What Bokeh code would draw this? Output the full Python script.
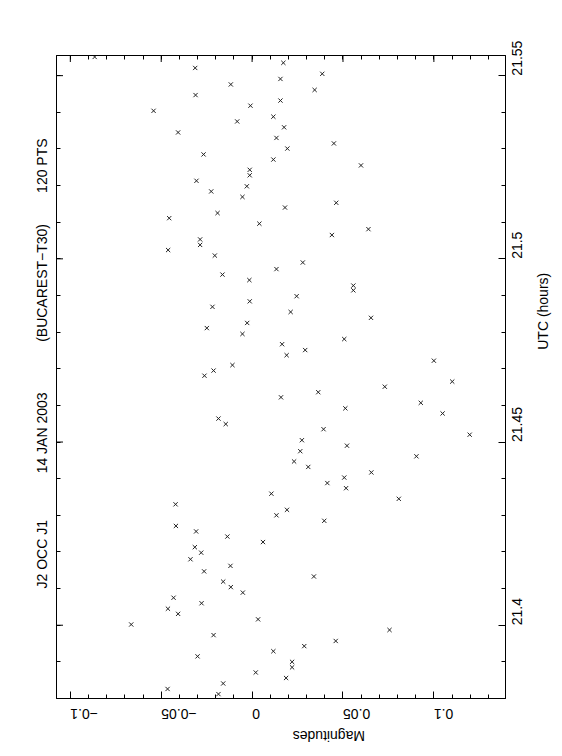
import math
import numpy as np
from bokeh.plotting import figure
from bokeh.models import (LinearAxis, FixedTicker, Range1d, Title,
                          ColumnDataSource, CustomJSTickFormatter)
from bokeh.embed import file_html
from bokeh.resources import INLINE

# ---------------- data ----------------
utc = [21.5551, 21.5535, 21.5521, 21.5505, 21.5491, 21.5476, 21.5461, 21.5447,
       21.5432, 21.5418, 21.5404, 21.5388, 21.5375, 21.5359, 21.5345, 21.5330,
       21.5315, 21.5301, 21.5285, 21.5271, 21.5255, 21.5243, 21.5228, 21.5213,
       21.5198, 21.5184, 21.5169, 21.5153, 21.5140, 21.5125, 21.5111, 21.5096,
       21.5081, 21.5065, 21.5053, 21.5038, 21.5024, 21.5009, 21.4990, 21.4972,
       21.4957, 21.4942, 21.4927, 21.4914, 21.4898, 21.4884, 21.4869, 21.4855,
       21.4839, 21.4825, 21.4811, 21.4795, 21.4781, 21.4767, 21.4751, 21.4737,
       21.4722, 21.4710, 21.4695, 21.4681, 21.4665, 21.4651, 21.4636, 21.4622,
       21.4607, 21.4592, 21.4578, 21.4564, 21.4549, 21.4535, 21.4520, 21.4505,
       21.4490, 21.4475, 21.4461, 21.4447, 21.4432, 21.4417, 21.4403, 21.4388,
       21.4374, 21.4359, 21.4345, 21.4330, 21.4315, 21.4300, 21.4285, 21.4271,
       21.4256, 21.4242, 21.4227, 21.4213, 21.4198, 21.4180, 21.4162, 21.4147,
       21.4133, 21.4119, 21.4104, 21.4089, 21.4075, 21.4060, 21.4045, 21.4031,
       21.4016, 21.4002, 21.3987, 21.3973, 21.3957, 21.3943, 21.3929, 21.3915,
       21.3900, 21.3885, 21.3871, 21.3856, 21.3841, 21.3826, 21.3812]

mag = [-0.0866, 0.0172, -0.0313, 0.0386, 0.0156, -0.0117, 0.0344, -0.0311,
       0.0156, -0.0009, -0.0542, 0.0117, -0.0082, 0.0176, -0.0407, 0.0134,
       0.0450, 0.0194, -0.0267, 0.0117, 0.0599, -0.0013, -0.0013, -0.0306,
       -0.0029, -0.0225, -0.0053, 0.0463, 0.0181, -0.0190, -0.0456, 0.0040,
       0.0640, 0.0439, -0.0286, -0.0286, -0.0462, -0.0205, 0.0279, 0.0134,
       -0.0163, -0.0015, 0.0557, 0.0557, 0.0245, -0.0013, -0.0218, 0.0212,
       0.0654, -0.0027, -0.0249, -0.0053, 0.0507, 0.0165, 0.0292, 0.0190,
       0.1000, -0.0108, -0.0212, -0.0262, 0.1101, 0.0730, 0.0364, 0.0159,
       0.0928, 0.0513, 0.1048, -0.0185, -0.0145, 0.0393, 0.1197, 0.0274,
       0.0522, 0.0265, 0.0904, 0.0231, 0.0309, 0.0656, 0.0507, 0.0414,
       0.0517, 0.0106, 0.0807, -0.0421, 0.0192, 0.0134, 0.0397, -0.0419,
       -0.0308, -0.0136, 0.0060, -0.0315, -0.0280, -0.0339, -0.0119, -0.0264,
       0.0340, -0.0159, -0.0117, -0.0051, -0.0432, -0.0278, -0.0463, -0.0407,
       0.0033, -0.0665, 0.0756, -0.0212, 0.0460, 0.0287, 0.0117, -0.0300,
       0.0220, 0.0220, 0.0020, 0.0187, -0.0159, -0.0465, -0.0185]

mag_ticks = [-0.1, -0.05, 0.0, 0.05, 0.1]
mag_tick_labels = ["\u22120.1", "\u22120.05", "0", "0.05", "0.1"]
utc_ticks = [21.4, 21.45, 21.5, 21.55]
utc_tick_labels = ["21.4", "21.45", "21.5", "21.55"]

title_parts = ["J2 OCC J1", "14 JAN 2003", "(BUCAREST\u2212T30)", "120 PTS"]
x_title = "Magnitudes"
y_title = "UTC (hours)"

# ---------------- figure ----------------
FONT = "Liberation Sans"
FS = "14px"
NB = "\u00a0"
X0, X1 = -0.1076, 0.1394
Y0, Y1 = 21.3800, 21.5555

p = figure(frame_width=449, frame_height=643,
           min_border_left=56, min_border_top=55,
           min_border_right=50, min_border_bottom=50,
           x_range=Range1d(X0, X1), y_range=Range1d(Y0, Y1),
           x_axis_location="below", y_axis_location="right",
           output_backend="svg", toolbar_location=None)
p.grid.visible = False
p.outline_line_color = "black"
p.outline_line_width = 1
p.background_fill_color = "white"
p.border_fill_color = "white"

mag_minor = [float(v) for v in np.round(np.arange(-0.10, 0.1401, 0.01), 3)]
utc_minor = [float(v) for v in np.round(np.arange(21.38, 21.5561, 0.01), 3)]
code = """
const i = tks.findIndex(t => Math.abs(t - tick) < 1e-6);
return i >= 0 ? lbls[i] : "";
"""
xfmt = CustomJSTickFormatter(args=dict(tks=mag_ticks, lbls=mag_tick_labels), code=code)
yfmt = CustomJSTickFormatter(args=dict(tks=utc_ticks, lbls=utc_tick_labels), code=code)


def style(ax):
    ax.axis_line_color = "black"
    ax.axis_line_width = 1
    ax.major_tick_line_color = "black"
    ax.minor_tick_line_color = "black"
    ax.major_tick_in = 7
    ax.major_tick_out = 0
    ax.minor_tick_in = 4
    ax.minor_tick_out = 0
    ax.major_label_text_font = FONT
    ax.major_label_text_font_size = FS
    ax.major_label_text_color = "black"
    ax.axis_label_text_font = FONT
    ax.axis_label_text_font_size = FS
    ax.axis_label_text_font_style = "normal"
    ax.axis_label_text_color = "black"


xax = p.xaxis[0]
xax.ticker = FixedTicker(ticks=mag_ticks, minor_ticks=mag_minor)
xax.formatter = xfmt
style(xax)
xax.major_label_orientation = math.pi
xax.major_label_standoff = 15
xax.axis_label = x_title + NB * 3
xax.axis_label_orientation = math.pi
xax.axis_label_standoff = 9

yax = p.yaxis[0]
yax.ticker = FixedTicker(ticks=utc_ticks, minor_ticks=utc_minor)
yax.formatter = yfmt
style(yax)
yax.major_label_orientation = math.pi / 2
yax.major_label_standoff = 12
yax.axis_label = NB * 7 + y_title
yax.axis_label_orientation = math.pi / 2
yax.axis_label_standoff = 12

# frame ticks on the top and left sides (no labels)
top = LinearAxis(ticker=FixedTicker(ticks=[], minor_ticks=mag_minor))
style(top)
p.add_layout(top, "above")
left = LinearAxis(ticker=FixedTicker(ticks=[], minor_ticks=utc_minor))
style(left)
p.add_layout(left, "left")
# longer major ticks on top / left edges (half of each dash is clipped away)
p.scatter(x=mag_ticks, y=[Y1] * len(mag_ticks), marker="dash", angle=math.pi / 2,
          size=13, line_color="black", line_width=1)
p.scatter(x=[X0] * len(utc_ticks), y=utc_ticks, marker="dash",
          size=13, line_color="black", line_width=1)

src = ColumnDataSource(dict(mag=mag, utc=utc))
p.scatter("mag", "utc", source=src, marker="x", size=6,
          line_color="#222222", line_width=1)

# title along the left side (reads bottom to top)
gaps = [NB * 12, NB * 13, NB * 8]
title_text = title_parts[0] + gaps[0] + title_parts[1] + gaps[1] + title_parts[2] + gaps[2] + title_parts[3]
p.add_layout(Title(text=title_text, align="left", offset=110, standoff=14,
                   text_font=FONT, text_font_size=FS, text_font_style="normal",
                   text_color="black"), "left")

open("out.html", "w").write(file_html(p, INLINE))
